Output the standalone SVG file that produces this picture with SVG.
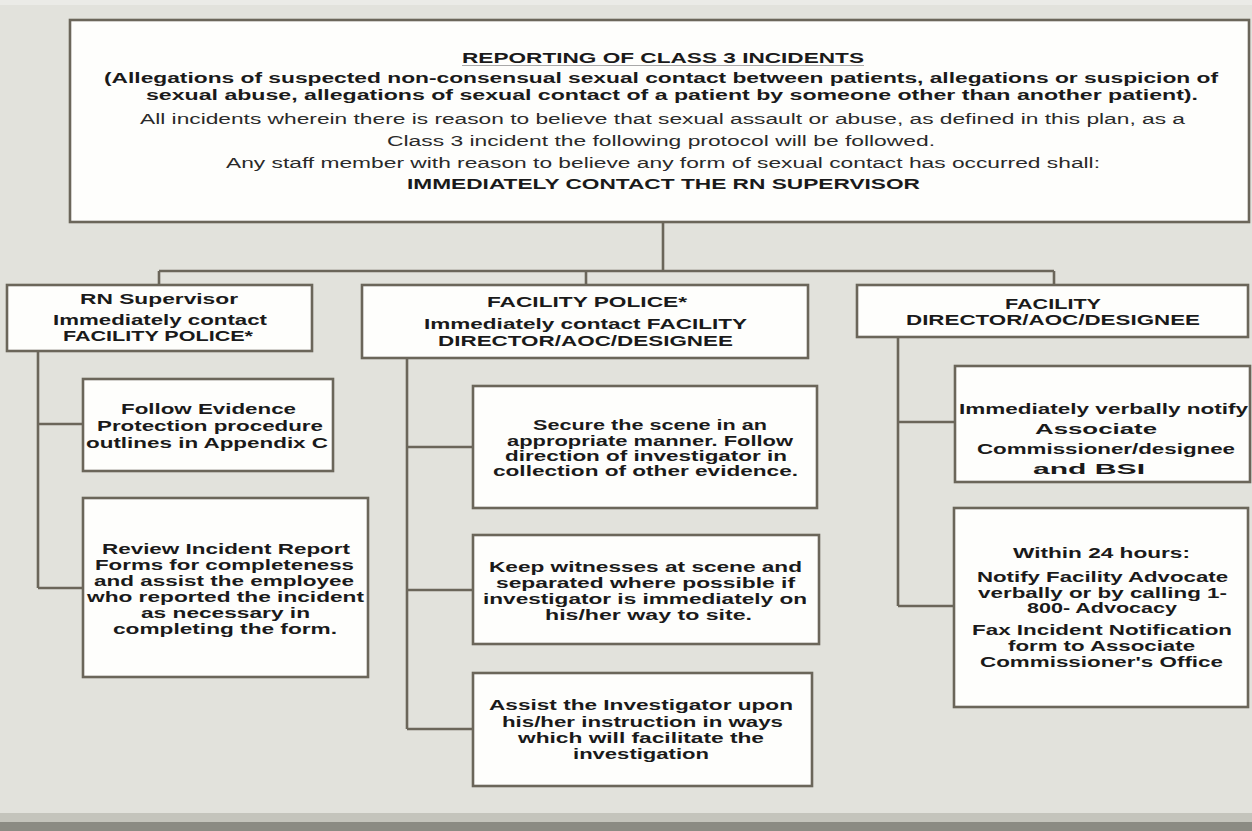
<svg xmlns="http://www.w3.org/2000/svg" width="1252" height="831" viewBox="0 0 1252 831">
<style>
.box{fill:#fefefc;stroke:#6b665a;stroke-width:2.6}
.ln{stroke:#6b665a;stroke-width:2.6;fill:none}
.b{font-family:"Liberation Sans",Arial,sans-serif;font-weight:bold;font-size:15px;fill:#1a1a1a}
.b2{font-family:"Liberation Sans",Arial,sans-serif;font-weight:bold;font-size:14px;fill:#1a1a1a}
.r{font-family:"Liberation Sans",Arial,sans-serif;font-weight:normal;font-size:15.5px;fill:#2a2a2a}
</style>
<rect x="0" y="0" width="1252" height="831" fill="#e2e2dc"/>
<rect x="0" y="0" width="1252" height="5" fill="#ebebe7"/>
<rect x="0" y="813" width="1252" height="9" fill="#c4c4bc"/>
<rect x="0" y="822" width="1252" height="9" fill="#8b8b83"/>

<g id="connectors">
<path class="ln" d="M663 222V271M159 271H1054M159 271V285M586 271V285M1054 271V285"/>
<path class="ln" d="M38 351V588M38 424H83M38 588H83"/>
<path class="ln" d="M407 358V729M407 447H473M407 590H473M407 729H473"/>
<path class="ln" d="M898 337V606M898 422H955M898 606H954"/>
</g>

<g id="top">
<rect class="box" x="70" y="20" width="1179" height="202"/>
<text class="b" x="462" y="62.5" textLength="402" lengthAdjust="spacingAndGlyphs">REPORTING OF CLASS 3 INCIDENTS</text>
<line x1="462" y1="65.5" x2="864" y2="65.5" stroke="#a8a8a8" stroke-width="1.2"/>
<text class="b2" x="104" y="83" textLength="1114" lengthAdjust="spacingAndGlyphs">(Allegations of suspected non-consensual sexual contact between  patients, allegations or suspicion of</text>
<text class="b2" x="146" y="100" textLength="1052" lengthAdjust="spacingAndGlyphs">sexual abuse, allegations of sexual contact of a patient by someone other than another patient).</text>
<text class="r" x="140" y="123.5" textLength="1045" lengthAdjust="spacingAndGlyphs">All incidents wherein there is reason to believe that sexual assault or abuse, as defined in this plan, as a</text>
<text class="r" x="387" y="145.5" textLength="548" lengthAdjust="spacingAndGlyphs">Class 3 incident the following protocol will be followed.</text>
<text class="r" x="226" y="167.5" textLength="874" lengthAdjust="spacingAndGlyphs">Any staff member with reason to believe any form of sexual contact has occurred shall:</text>
<text class="b" x="407" y="188.5" textLength="513" lengthAdjust="spacingAndGlyphs">IMMEDIATELY CONTACT THE RN SUPERVISOR</text>
</g>

<g id="rn-supervisor">
<rect class="box" x="7" y="285" width="305" height="66"/>
<text class="b" x="80" y="304" textLength="158" lengthAdjust="spacingAndGlyphs">RN Supervisor</text>
<text class="b" x="53" y="324.5" textLength="214" lengthAdjust="spacingAndGlyphs">Immediately contact</text>
<text class="b" x="63" y="341" textLength="190" lengthAdjust="spacingAndGlyphs">FACILITY POLICE*</text>
</g>

<g id="facility-police">
<rect class="box" x="362" y="285" width="446" height="73"/>
<text class="b" x="487" y="307" textLength="200" lengthAdjust="spacingAndGlyphs">FACILITY POLICE*</text>
<text class="b" x="424" y="328.5" textLength="323" lengthAdjust="spacingAndGlyphs">Immediately contact  FACILITY</text>
<text class="b" x="438" y="345.5" textLength="295" lengthAdjust="spacingAndGlyphs">DIRECTOR/AOC/DESIGNEE</text>
</g>

<g id="facility-director">
<rect class="box" x="857" y="285" width="391" height="52"/>
<text class="b" x="1005" y="308.5" textLength="96" lengthAdjust="spacingAndGlyphs">FACILITY</text>
<text class="b" x="906" y="324.5" textLength="294" lengthAdjust="spacingAndGlyphs">DIRECTOR/AOC/DESIGNEE</text>
</g>

<g id="evidence">
<rect class="box" x="83" y="379" width="250" height="92"/>
<text class="b" x="121" y="413.5" textLength="175" lengthAdjust="spacingAndGlyphs">Follow Evidence</text>
<text class="b" x="97" y="430.5" textLength="226" lengthAdjust="spacingAndGlyphs">Protection  procedure</text>
<text class="b" x="86" y="447.5" textLength="242" lengthAdjust="spacingAndGlyphs">outlines in Appendix C</text>
</g>

<g id="review">
<rect class="box" x="83" y="498" width="285" height="179"/>
<text class="b" x="102" y="553.5" textLength="248" lengthAdjust="spacingAndGlyphs">Review  Incident Report</text>
<text class="b" x="95" y="569.5" textLength="259" lengthAdjust="spacingAndGlyphs">Forms for completeness</text>
<text class="b" x="94" y="585.5" textLength="260" lengthAdjust="spacingAndGlyphs">and assist the employee</text>
<text class="b" x="87" y="601.5" textLength="277" lengthAdjust="spacingAndGlyphs">who reported the incident</text>
<text class="b" x="141" y="617.5" textLength="169" lengthAdjust="spacingAndGlyphs">as necessary  in</text>
<text class="b" x="113" y="633.5" textLength="224" lengthAdjust="spacingAndGlyphs">completing the form.</text>
</g>

<g id="secure">
<rect class="box" x="473" y="386" width="344" height="122"/>
<text class="b" x="533" y="429.5" textLength="234" lengthAdjust="spacingAndGlyphs">Secure the scene  in an</text>
<text class="b" x="507" y="445.5" textLength="286" lengthAdjust="spacingAndGlyphs">appropriate  manner. Follow</text>
<text class="b" x="505" y="460.5" textLength="282" lengthAdjust="spacingAndGlyphs">direction of investigator in</text>
<text class="b" x="493" y="475.5" textLength="305" lengthAdjust="spacingAndGlyphs">collection of other evidence.</text>
</g>

<g id="witnesses">
<rect class="box" x="473" y="535" width="346" height="109"/>
<text class="b" x="489" y="571.5" textLength="313" lengthAdjust="spacingAndGlyphs">Keep witnesses  at scene and</text>
<text class="b" x="496" y="587.5" textLength="299" lengthAdjust="spacingAndGlyphs">separated  where possible if</text>
<text class="b" x="483" y="603.5" textLength="324" lengthAdjust="spacingAndGlyphs">investigator  is immediately on</text>
<text class="b" x="545" y="619.5" textLength="207" lengthAdjust="spacingAndGlyphs">his/her way to site.</text>
</g>

<g id="assist">
<rect class="box" x="473" y="673" width="339" height="113"/>
<text class="b" x="489" y="709.5" textLength="304" lengthAdjust="spacingAndGlyphs">Assist the Investigator  upon</text>
<text class="b" x="502" y="726.5" textLength="281" lengthAdjust="spacingAndGlyphs">his/her instruction in ways</text>
<text class="b" x="518" y="742.5" textLength="246" lengthAdjust="spacingAndGlyphs">which will facilitate the</text>
<text class="b" x="573" y="758.5" textLength="136" lengthAdjust="spacingAndGlyphs">investigation</text>
</g>

<g id="notify">
<rect class="box" x="955" y="366" width="295" height="116"/>
<text class="b" x="959" y="413.5" textLength="289" lengthAdjust="spacingAndGlyphs">Immediately verbally  notify</text>
<text class="b" x="1035" y="433.5" textLength="122" lengthAdjust="spacingAndGlyphs">Associate</text>
<text class="b" x="977" y="453.5" textLength="258" lengthAdjust="spacingAndGlyphs">Commissioner/designee</text>
<text class="b" x="1033" y="473.5" textLength="112" lengthAdjust="spacingAndGlyphs">and BSI</text>
</g>

<g id="within">
<rect class="box" x="954" y="508" width="294" height="199"/>
<text class="b" x="1013" y="557.5" textLength="177" lengthAdjust="spacingAndGlyphs">Within  24 hours:</text>
<text class="b" x="977" y="581.5" textLength="251" lengthAdjust="spacingAndGlyphs">Notify  Facility Advocate</text>
<text class="b" x="978" y="597.5" textLength="249" lengthAdjust="spacingAndGlyphs">verbally or by calling 1-</text>
<text class="b" x="1027" y="612.5" textLength="150" lengthAdjust="spacingAndGlyphs">800- Advocacy</text>
<text class="b" x="972" y="634.5" textLength="260" lengthAdjust="spacingAndGlyphs">Fax Incident Notification</text>
<text class="b" x="1008" y="650.5" textLength="187" lengthAdjust="spacingAndGlyphs">form to Associate</text>
<text class="b" x="980" y="666.5" textLength="243" lengthAdjust="spacingAndGlyphs">Commissioner's Office</text>
</g>
</svg>
